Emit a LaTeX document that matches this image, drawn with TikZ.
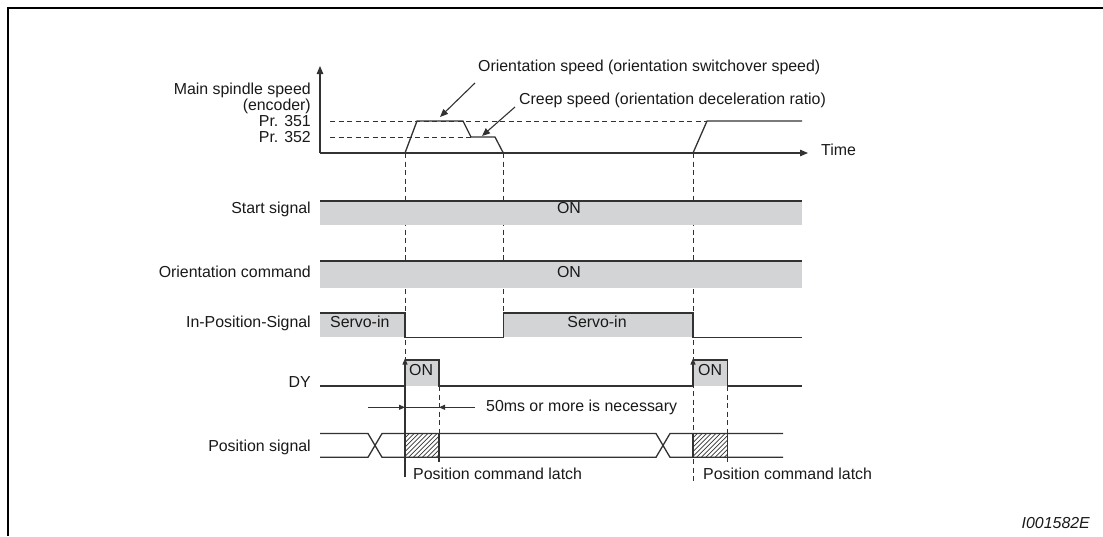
\documentclass[tikz,border=0pt]{standalone}
\usepackage{fontspec}
\setmainfont{Liberation Sans}
\usetikzlibrary{arrows.meta}
\definecolor{sig}{RGB}{50,50,50}
\definecolor{fillg}{RGB}{211,212,214}
\definecolor{txt}{RGB}{25,25,25}
\begin{document}
\begin{tikzpicture}[x=1pt,y=-1pt,
  every node/.style={font=\fontsize{15.9}{19}\selectfont, inner sep=0pt, text=txt},
  wave/.style={draw=sig, line width=1.3pt, line join=miter},
  gbar/.style={fill=fillg, draw=none},
  guide/.style={draw=sig, line width=0.9pt, dash pattern=on 5pt off 3.5pt},
  bigarrow/.style={draw=sig, line width=1.1pt, -{Triangle[length=8pt,width=6.5pt]}},
  smallarrow/.style={draw=sig, line width=1.1pt, -{Triangle[length=6pt,width=5pt]}},
  hatch/.style={draw=sig, line width=0.7pt}]
\useasboundingbox (0,0) rectangle (1103,536);
% frame
\draw[line width=2.2pt, black] (8.3,536) -- (8.3,8.3) -- (1103,8.3);

% ---------- speed graph ----------
\coordinate (origin) at (320,153);
\coordinate (ytop) at (320,66);
\coordinate (xend) at (808,153);
\draw[guide] (330,121) -- (707,121);
\draw[guide] (330,137) -- (471,137);
\draw[bigarrow] (origin) -- (ytop);
\draw[bigarrow] (origin) -- (xend);
\draw[wave] (405,153) -- (417,121) -- (463,121) -- (471,137) -- (495,137) -- (503.3,153);
\draw[wave] (693,153) -- (707,121) -- (802,121);

\node[anchor=base east] (mss) at (311,94) {Main spindle speed};
\node[anchor=base east] (enc) at (311,110) {(encoder)};
\node[anchor=base east] (p351) at (311,126) {Pr. 351};
\node[anchor=base east] (p352) at (311,142) {Pr. 352};
\node[anchor=base west] (os) at (478,71) {Orientation speed (orientation switchover speed)};
\node[anchor=base west] (cs) at (519,104) {Creep speed (orientation deceleration ratio)};
\node[anchor=base west] (time) at (821,155) {Time};

\coordinate (osA) at (475,83);
\coordinate (osB) at (440,117);
\coordinate (csA) at (515,107);
\coordinate (csB) at (482,136);
\draw[bigarrow] (osA) -- (osB);
\draw[bigarrow] (csA) -- (csB);

% ---------- vertical guides ----------
\draw[guide] (405,153) -- (405,359);
\draw[guide] (503.3,153) -- (503.3,313);
\draw[guide] (693,153) -- (693,482);
\draw[guide] (439,386) -- (439,434);
\draw[guide] (727.5,386) -- (727.5,434);

% ---------- Start signal ----------
\fill[gbar] (320,201) rectangle (802,225);
\draw[wave] (320,201) -- (802,201);
% ---------- Orientation command ----------
\fill[gbar] (320,261) rectangle (802,287.5);
\draw[wave] (320,261) -- (802,261);
% ---------- In-Position ----------
\fill[gbar] (320,313) rectangle (405,337.3);
\fill[gbar] (503.3,313) rectangle (693,337.3);
\draw[wave] (320,313) -- (405,313) -- (405,337.3) -- (503.3,337.3) -- (503.3,313) -- (693,313) -- (693,337.3) -- (802,337.3);

% ---------- DY ----------
\fill[gbar] (405,360) rectangle (439,386);
\fill[gbar] (693,360) rectangle (727.5,386);
\draw[wave] (320,386) -- (405,386) (405,360) -- (439,360) -- (439,386) -- (693,386) (693,360) -- (727.5,360) -- (727.5,386) -- (802,386);

\coordinate (dyA1) at (405,477);
\coordinate (dyB1) at (405,358.5);
\coordinate (dyA2) at (693,386);
\coordinate (dyB2) at (693,358.5);
\draw[smallarrow] (dyA1) -- (dyB1);
\draw[smallarrow] (dyA2) -- (dyB2);

% dimension
\coordinate (dmL) at (368,407.3);
\coordinate (dm1) at (405,407.3);
\coordinate (dm2) at (439,407.3);
\coordinate (dmR) at (475,407.3);
\draw[smallarrow] (dmL) -- (dm1);
\draw[draw=sig, line width=1.1pt] (dm1) -- (dm2);
\draw[smallarrow] (dmR) -- (dm2);

% ---------- Position signal ----------
\begin{scope}
  \clip (405,433.5) rectangle (439,457.3);
  \foreach \i in {0,4.6,...,64} \draw[hatch] (381+\i,457.3) -- ++(24,-24);
\end{scope}
\begin{scope}
  \clip (693,433.5) rectangle (727.5,457.3);
  \foreach \i in {0,4.6,...,64} \draw[hatch] (669+\i,457.3) -- ++(24,-24);
\end{scope}
\draw[wave] (320,433.5) -- (368,433.5) -- (382,457.3) -- (656,457.3) -- (670,433.5) -- (783,433.5);
\draw[wave] (320,457.3) -- (368,457.3) -- (382,433.5) -- (656,433.5) -- (670,457.3) -- (783,457.3);
\draw[wave] (439,433.5) -- (439,462);
\draw[wave] (693,433.5) -- (693,457.3);
\draw[wave] (727.5,433.5) -- (727.5,462);

% ---------- labels ----------
\node[anchor=base east] (ss) at (311,213) {Start signal};
\node[anchor=base east] (oc) at (311,277) {Orientation command};
\node[anchor=base east] (ip) at (311,327) {In-Position-Signal};
\node[anchor=base east] (dy) at (311,387) {DY};
\node[anchor=base east] (ps) at (311,451) {Position signal};

\node[anchor=base] (on1) at (569,213) {ON};
\node[anchor=base] (on2) at (569,277) {ON};
\node[anchor=base west] (sv1) at (330,327) {Servo-in};
\node[anchor=base] (sv2) at (597,327) {Servo-in};
\node[anchor=base west] (don1) at (409,375) {ON};
\node[anchor=base west] (don2) at (698,375) {ON};
\node[anchor=base west] (ms) at (486,411) {50ms or more is necessary};
\node[anchor=base west] (pcl1) at (413,479) {Position command latch};
\node[anchor=base west] (pcl2) at (703,479) {Position command latch};
\node[anchor=base east, font=\fontsize{15.9}{19}\selectfont\itshape] (id) at (1090,528) {I001582E};
\end{tikzpicture}
\end{document}
